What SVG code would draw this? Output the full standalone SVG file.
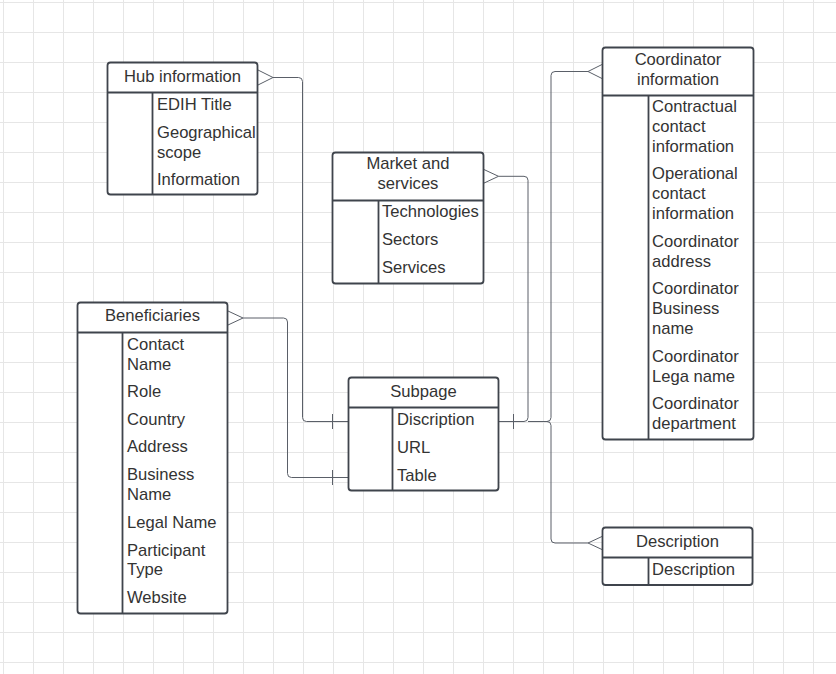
<svg xmlns="http://www.w3.org/2000/svg" width="836" height="674" viewBox="0 0 836 674">
<style>
.box{fill:#fff;stroke:#3f444c;stroke-width:1.8}
.ln{stroke:#3f444c;stroke-width:1.8;fill:none}
.t{font-family:"Liberation Sans",Arial,sans-serif;font-size:16.6px;fill:#333}
.c{text-anchor:middle}
.con{fill:none;stroke:#5a5f68;stroke-width:1}
</style>
<defs>
<pattern id="grid" x="3" y="2" width="30" height="30" patternUnits="userSpaceOnUse">
<path d="M0.5 0V30M0 0.5H30" fill="none" stroke="#e6e6e6" stroke-width="1"/>
</pattern>
</defs>
<rect width="836" height="674" fill="#fff"/>
<rect width="836" height="674" fill="url(#grid)"/>

<g id="connectors">
<path class="con" d="M258 70L273 77.5L258 85M273 77.5H298.5Q302.5 77.5 302.5 81.5V417.5Q302.5 421.5 306.5 421.5H348M332.5 414V429"/>
<path class="con" d="M228 311L243 318L228 325M243 318H283.5Q287.5 318 287.5 322V473.5Q287.5 477.5 291.5 477.5H348M332.5 470V485"/>
<path class="con" d="M483.5 169.3L498.5 176.3L483.5 183.3M498.5 176.3H524Q528 176.3 528 180.3V417.5Q528 421.5 524 421.5H498.5M513.5 414V429"/>
<path class="con" d="M603 64L588 71.5L603 79M588 71.5H555Q551 71.5 551 75.5V417.5Q551 421.5 547 421.5H528"/>
<path class="con" d="M603 536L588 543L603 550M528 421.5H547Q551 421.5 551 425.5V539Q551 543 555 543H588"/>
</g>

<g id="hub">
<rect class="box" x="107.5" y="62.5" width="150" height="132" rx="3"/>
<path class="ln" d="M107.5 92.5H257.5M152.5 92.5V194.5"/>
<text class="t c" x="182.5" y="81.5">Hub information</text>
<text class="t" x="157" y="110">EDIH Title</text>
<text class="t" x="157" y="138.3">Geographical</text>
<text class="t" x="157" y="157.8">scope</text>
<text class="t" x="157" y="185">Information</text>
</g>

<g id="market">
<rect class="box" x="332.5" y="152.5" width="151" height="131" rx="3"/>
<path class="ln" d="M332.5 200.5H483.5M378.5 200.5V283.5"/>
<text class="t c" x="408" y="169.3">Market and</text>
<text class="t c" x="408" y="189.3">services</text>
<text class="t" x="382" y="217.3">Technologies</text>
<text class="t" x="382" y="245">Sectors</text>
<text class="t" x="382" y="272.7">Services</text>
</g>

<g id="coordinator">
<rect class="box" x="602.5" y="47.5" width="151" height="392" rx="3"/>
<path class="ln" d="M602.5 95.5H753.5M648.5 95.5V439.5"/>
<text class="t c" x="678" y="65">Coordinator</text>
<text class="t c" x="678" y="85">information</text>
<text class="t" x="652" y="111.7">Contractual</text>
<text class="t" x="652" y="131.7">contact</text>
<text class="t" x="652" y="151.7">information</text>
<text class="t" x="652" y="178.7">Operational</text>
<text class="t" x="652" y="198.7">contact</text>
<text class="t" x="652" y="218.7">information</text>
<text class="t" x="652" y="246.5">Coordinator</text>
<text class="t" x="652" y="266.5">address</text>
<text class="t" x="652" y="294">Coordinator</text>
<text class="t" x="652" y="314">Business</text>
<text class="t" x="652" y="334">name</text>
<text class="t" x="652" y="361.5">Coordinator</text>
<text class="t" x="652" y="381.5">Lega name</text>
<text class="t" x="652" y="409">Coordinator</text>
<text class="t" x="652" y="429">department</text>
</g>

<g id="beneficiaries">
<rect class="box" x="77.5" y="302.5" width="150" height="311" rx="3"/>
<path class="ln" d="M77.5 332.5H227.5M122.5 332.5V613.5"/>
<text class="t c" x="152.5" y="321">Beneficiaries</text>
<text class="t" x="127" y="350">Contact</text>
<text class="t" x="127" y="370">Name</text>
<text class="t" x="127" y="396.7">Role</text>
<text class="t" x="127" y="424.5">Country</text>
<text class="t" x="127" y="452.3">Address</text>
<text class="t" x="127" y="480.3">Business</text>
<text class="t" x="127" y="500.3">Name</text>
<text class="t" x="127" y="528">Legal Name</text>
<text class="t" x="127" y="555.5">Participant</text>
<text class="t" x="127" y="575.3">Type</text>
<text class="t" x="127" y="602.7">Website</text>
</g>

<g id="subpage">
<rect class="box" x="348.5" y="377.5" width="150" height="113" rx="3"/>
<path class="ln" d="M348.5 407.5H498.5M392.5 407.5V490.5"/>
<text class="t c" x="423.5" y="396.7">Subpage</text>
<text class="t" x="397" y="425">Discription</text>
<text class="t" x="397" y="452.7">URL</text>
<text class="t" x="397" y="480.5">Table</text>
</g>

<g id="description">
<rect class="box" x="602.5" y="527.5" width="150" height="57.5" rx="3"/>
<path class="ln" d="M602.5 557.5H752.5M648.5 557.5V585"/>
<text class="t c" x="677.5" y="546.7">Description</text>
<text class="t" x="652" y="575">Description</text>
</g>
</svg>
